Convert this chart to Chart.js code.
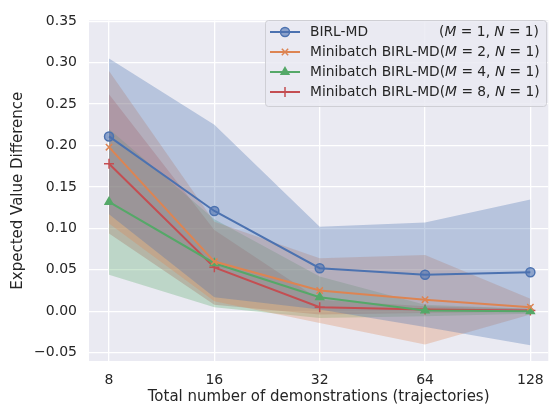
<!DOCTYPE html>
<html>
<head>
<meta charset="utf-8">
<script src="https://cdn.jsdelivr.net/npm/chart.js@4/dist/chart.umd.min.js"></script>
<style>
  html, body { margin: 0; padding: 0; background: #fff; }
  #wrap { width: 555px; height: 409px; position: relative; }
</style>
</head>
<body>
<div id="wrap"><canvas id="chart"></canvas></div>
<script>
const xLabels = ['8', '16', '32', '64', '128'];
const yTicks = [-0.05, 0, 0.05, 0.1, 0.15, 0.2, 0.25, 0.3, 0.35];

const birlMean = [0.211, 0.121, 0.052, 0.044, 0.047];
const birlLo = [0.117, 0.017, 0.002, -0.019, -0.041];
const birlHi = [0.305, 0.225, 0.102, 0.107, 0.135];

const m2Mean = [0.198, 0.060, 0.025, 0.014, 0.005];
const m2Lo = [0.106, 0.012, -0.014, -0.040, -0.004];
const m2Hi = [0.290, 0.108, 0.064, 0.068, 0.015];

const m4Mean = [0.132, 0.058, 0.017, 0.001, 0.000];
const m4Lo = [0.044, 0.005, -0.008, -0.006, -0.003];
const m4Hi = [0.220, 0.111, 0.042, 0.008, 0.003];

const m8Mean = [0.178, 0.053, 0.005, 0.002, 0.001];
const m8Lo = [0.094, 0.008, -0.004, -0.002, -0.001];
const m8Hi = [0.262, 0.098, 0.014, 0.006, 0.003];

const FONT = '"DejaVu Sans", sans-serif';
const TEXT = '#262626';

const series = [
  { name: 'BIRL-MD', m: '1', mean: birlMean, lo: birlLo, hi: birlHi, color: '#4C72B0', fill: 'rgba(76,114,176,0.32)', style: 'circle', r: 4.5 },
  { name: 'Minibatch BIRL-MD', m: '2', mean: m2Mean, lo: m2Lo, hi: m2Hi, color: '#DD8452', fill: 'rgba(221,132,82,0.3)', style: 'crossRot', r: 4.5 },
  { name: 'Minibatch BIRL-MD', m: '4', mean: m4Mean, lo: m4Lo, hi: m4Hi, color: '#55A868', fill: 'rgba(85,168,104,0.3)', style: 'triangle', r: 4.5 },
  { name: 'Minibatch BIRL-MD', m: '8', mean: m8Mean, lo: m8Lo, hi: m8Hi, color: '#C44E52', fill: 'rgba(196,78,82,0.3)', style: 'cross', r: 5 }
];

const pts = arr => arr.map((v, i) => ({ x: i, y: v }));
const markerFill = s => (s.style === 'circle' ? 'rgba(76,114,176,0.6)' : s.color);

const datasets = [];
series.forEach(s => {
  datasets.push({ data: pts(s.hi), borderWidth: 0, pointRadius: 0, fill: false, order: 10 });
  datasets.push({ data: pts(s.lo), borderWidth: 0, pointRadius: 0, fill: '-1', backgroundColor: s.fill, order: 10 });
});
series.forEach(s => {
  datasets.push({
    data: pts(s.mean),
    borderColor: s.color,
    borderWidth: 2,
    pointStyle: s.style,
    pointRadius: s.r,
    pointBorderWidth: 1.5,
    pointBorderColor: s.color,
    pointBackgroundColor: markerFill(s),
    fill: false,
    order: 0
  });
});

const bgPlugin = {
  id: 'bg',
  beforeDraw(chart) {
    const { ctx, chartArea: a } = chart;
    ctx.save();
    ctx.fillStyle = '#EAEAF2';
    ctx.fillRect(a.left, a.top, a.right - a.left, a.bottom - a.top);
    ctx.restore();
  }
};

function drawRich(ctx, parts, x, y, measureOnly) {
  let w = 0;
  parts.forEach(p => {
    ctx.font = (p.it ? 'italic ' : '') + '13.8px ' + FONT;
    if (!measureOnly) ctx.fillText(p.t, x + w, y);
    w += ctx.measureText(p.t).width;
  });
  return w;
}

const legendPlugin = {
  id: 'innerLegend',
  afterDraw(chart) {
    const ctx = chart.ctx;
    const box = { x: 265, y: 20, w: 281, h: 86 };
    ctx.save();
    ctx.fillStyle = 'rgba(234,234,242,0.85)';
    ctx.strokeStyle = 'rgba(204,204,210,0.9)';
    ctx.lineWidth = 1;
    ctx.beginPath();
    ctx.roundRect(box.x + 0.5, box.y + 0.5, box.w, box.h, 3);
    ctx.fill();
    ctx.stroke();
    const rowsY = [32, 52, 72, 92];
    const textEnd = 539;
    ctx.textBaseline = 'middle';
    series.forEach((s, i) => {
      const y = rowsY[i];
      ctx.strokeStyle = s.color;
      ctx.lineWidth = 2;
      ctx.beginPath();
      ctx.moveTo(270, y);
      ctx.lineTo(300, y);
      ctx.stroke();
      ctx.fillStyle = markerFill(s);
      ctx.lineWidth = 1.5;
      Chart.helpers.drawPoint(ctx, { pointStyle: s.style, radius: s.r, borderWidth: 1.5, rotation: 0 }, 285, y);
      ctx.fillStyle = TEXT;
      const tail = [
        { t: '(' }, { t: 'M', it: true }, { t: ' = ' + s.m + ', ' }, { t: 'N', it: true }, { t: ' = 1)' }
      ];
      if (i === 0) {
        drawRich(ctx, [{ t: s.name }], 310, y);
        const tw = drawRich(ctx, tail, 0, y, true);
        drawRich(ctx, tail, textEnd - tw, y);
      } else {
        drawRich(ctx, [{ t: s.name }].concat(tail), 310, y);
      }
    });
    ctx.restore();
  }
};

new Chart(document.getElementById('chart'), {
  type: 'line',
  data: { datasets },
  plugins: [bgPlugin, legendPlugin],
  options: {
    responsive: true,
    maintainAspectRatio: false,
    animation: false,
    layout: { padding: { top: 14, right: 5, left: 0, bottom: 0 } },
    elements: { line: { tension: 0 } },
    plugins: { legend: { display: false }, tooltip: { enabled: false } },
    scales: {
      x: {
        type: 'linear',
        min: -0.19,
        max: 4.17,
        afterBuildTicks: scale => { scale.ticks = xLabels.map((l, i) => ({ value: i })); },
        afterFit: scale => { scale.height = 48; },
        border: { display: false },
        grid: { color: '#ffffff', lineWidth: 1.3, drawTicks: false },
        ticks: {
          padding: 11,
          color: TEXT,
          font: { family: FONT, size: 14 },
          callback: v => xLabels[v]
        },
        title: {
          display: true,
          text: 'Total number of demonstrations (trajectories)',
          color: TEXT,
          font: { family: FONT, size: 15 },
          padding: { top: 0, bottom: 3 }
        }
      },
      y: {
        min: -0.06,
        max: 0.351,
        afterBuildTicks: scale => { scale.ticks = yTicks.map(v => ({ value: v })); },
        afterFit: scale => { scale.width = 89; },
        border: { display: false },
        grid: { color: '#ffffff', lineWidth: 1.3, drawTicks: false },
        ticks: {
          padding: 12,
          color: TEXT,
          font: { family: FONT, size: 14 },
          callback: v => (v < 0 ? '\u22120.05' : v.toFixed(2))
        },
        title: {
          display: true,
          text: 'Expected Value Difference',
          color: TEXT,
          font: { family: FONT, size: 15 },
          padding: { top: 9, bottom: 0 }
        }
      }
    }
  }
});
</script>
</body>
</html>
